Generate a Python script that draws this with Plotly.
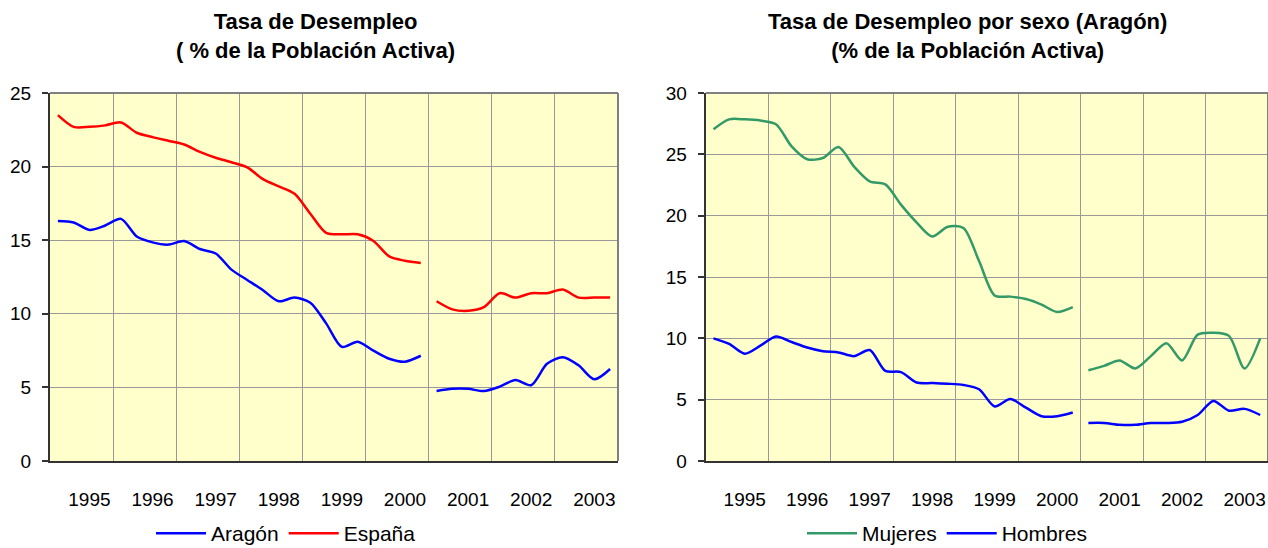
import plotly.graph_objects as go

# ---------------- data ----------------
years = ['1995', '1996', '1997', '1998', '1999', '2000', '2001', '2002', '2003']
quarter_idx = list(range(36))          # 36 quarterly observations
break_at = 24                           # series break (methodology change)

aragon_1 = [16.3, 16.2, 15.7, 16.0, 16.45, 15.25, 14.85, 14.7, 14.95, 14.4, 14.1, 13.0,
            12.3, 11.6, 10.85, 11.1, 10.75, 9.35, 7.75, 8.1, 7.5, 6.95, 6.75, 7.15]
aragon_2 = [4.75, 4.9, 4.9, 4.75, 5.05, 5.5, 5.15, 6.6, 7.05, 6.5, 5.55, 6.25]

espana_1 = [23.5, 22.7, 22.7, 22.8, 23.0, 22.3, 22.0, 21.75, 21.5, 21.0, 20.6, 20.3,
            19.95, 19.15, 18.65, 18.15, 16.8, 15.5, 15.4, 15.4, 14.95, 13.9, 13.6, 13.45]
espana_2 = [10.85, 10.3, 10.2, 10.45, 11.4, 11.1, 11.4, 11.4, 11.65, 11.1, 11.1, 11.1]

mujeres_1 = [27.05, 27.85, 27.85, 27.75, 27.45, 25.65, 24.6, 24.7, 25.6, 24.0, 22.8, 22.55,
             20.9, 19.45, 18.3, 19.1, 19.0, 16.3, 13.5, 13.4, 13.2, 12.75, 12.15, 12.55]
mujeres_2 = [7.4, 7.75, 8.2, 7.55, 8.55, 9.6, 8.2, 10.3, 10.45, 10.2, 7.55, 10.0]

hombres_1 = [10.0, 9.55, 8.75, 9.4, 10.15, 9.7, 9.25, 8.95, 8.85, 8.55, 9.05, 7.35,
             7.25, 6.4, 6.35, 6.3, 6.2, 5.85, 4.45, 5.05, 4.35, 3.65, 3.65, 3.95]
hombres_2 = [3.1, 3.1, 2.95, 2.95, 3.1, 3.1, 3.2, 3.75, 4.9, 4.1, 4.25, 3.75]

title_left = "Tasa de Desempleo<br>( % de la Población Activa)"
title_right = "Tasa de Desempleo por sexo (Aragón)<br>(% de la Población Activa)"

# ---------------- layout helpers ----------------
W, H = 1268, 548
FONT = "Liberation Sans, Arial, sans-serif"
dom_left = [50 / W, 618 / W]
dom_right = [705.7 / W, 1.0]
dom_y = [1 - 461 / H, 1 - 93 / H]

label_pos = [4 * k + 2 for k in range(len(years))]
grid_pos = [4 * k - 0.5 for k in range(1, len(years))]

fig = go.Figure()


def add_series(name, seg1, seg2, color, xa, ya, legend):
    for i, (xs, ys) in enumerate([(quarter_idx[:break_at], seg1), (quarter_idx[break_at:], seg2)]):
        fig.add_trace(go.Scatter(
            x=xs, y=ys, mode="lines", name=name, legendgroup=name + xa,
            showlegend=(i == 0), legend=legend, xaxis=xa, yaxis=ya,
            line=dict(color=color, width=2.5, shape="spline", smoothing=0.8),
            hovertemplate=name + ": %{y:.1f}<extra></extra>",
        ))


add_series("Aragón", aragon_1, aragon_2, "#0000FF", "x", "y", "legend")
add_series("España", espana_1, espana_2, "#FF0000", "x", "y", "legend")
add_series("Mujeres", mujeres_1, mujeres_2, "#339966", "x2", "y2", "legend2")
add_series("Hombres", hombres_1, hombres_2, "#0000FF", "x2", "y2", "legend2")


def xaxis_def(domain, anchor):
    return dict(
        domain=domain, anchor=anchor, range=[-0.5, 35.5],
        tickmode="array", tickvals=label_pos, ticktext=years,
        showgrid=False, ticks="", zeroline=False,
        showline=True, linecolor="#333333", linewidth=2,
        tickfont=dict(family=FONT, size=19, color="#000000"),
        ticklabelstandoff=20, automargin=False, fixedrange=True,
        minor=dict(tickmode="array", tickvals=grid_pos, showgrid=True,
                   gridcolor="#999999", gridwidth=1.3, ticks=""),
    )


def yaxis_def(domain, anchor, top):
    return dict(
        domain=domain, anchor=anchor, range=[0, top], tick0=0, dtick=5,
        showgrid=True, gridcolor="#999999", gridwidth=1.3, zeroline=False,
        ticks="outside", ticklen=6, tickwidth=1.5, tickcolor="#333333",
        showline=True, linecolor="#333333", linewidth=2,
        tickfont=dict(family=FONT, size=19, color="#000000"),
        ticklabelstandoff=7, automargin=False, fixedrange=True,
    )


legend_common = dict(orientation="h", yanchor="bottom", y=-6 / H,
                     xanchor="center", bgcolor="rgba(0,0,0,0)",
                     font=dict(family=FONT, size=21, color="#000000"),
                     itemwidth=50, tracegroupgap=0)


def frame(xd, yd):
    # top and right border of the plot area (grey), drawn as plain lines
    return [
        dict(type="line", xref=xd, yref=yd, x0=0, x1=1, y0=1, y1=1,
             line=dict(color="#808080", width=2), layer="above"),
        dict(type="line", xref=xd, yref=yd, x0=1, x1=1, y0=0, y1=1,
             line=dict(color="#808080", width=2), layer="above"),
    ]


title_font = dict(family=FONT, size=22, color="#000000")

fig.update_layout(
    width=W, height=H, autosize=False,
    margin=dict(l=0, r=0, t=0, b=0, autoexpand=False),
    paper_bgcolor="#FFFFFF", plot_bgcolor="#FFFFCC",
    font=dict(family=FONT, color="#000000"),
    xaxis=xaxis_def(dom_left, "y"),
    yaxis=yaxis_def(dom_y, "x", 25),
    xaxis2=xaxis_def(dom_right, "y2"),
    yaxis2=yaxis_def(dom_y, "x2", 30),
    legend=dict(x=286 / W, **legend_common),
    legend2=dict(x=947 / W, **legend_common),
    annotations=[
        dict(text="<b>" + title_left + "</b>", x=315 / W, y=1 - 36 / H,
             xref="paper", yref="paper", xanchor="center", yanchor="middle",
             showarrow=False, font=title_font),
        dict(text="<b>" + title_right + "</b>", x=967 / W, y=1 - 36 / H,
             xref="paper", yref="paper", xanchor="center", yanchor="middle",
             showarrow=False, font=title_font),
    ],
    shapes=frame("x domain", "y domain") + frame("x2 domain", "y2 domain"),
)

fig.write_html("out.html", config={"displayModeBar": False},
               post_script="document.body.style.margin='0';")
